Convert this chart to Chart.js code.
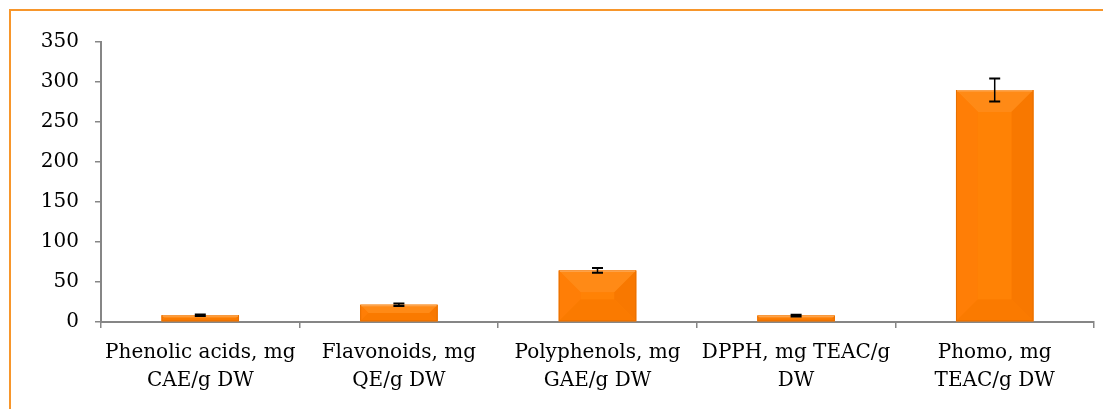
<!DOCTYPE html>
<html>
<head>
<meta charset="utf-8">
<script src="https://cdn.jsdelivr.net/npm/chart.js@4/dist/chart.umd.min.js"></script>
<style>
    html, body { margin: 0; padding: 0; background: #fff; overflow: hidden; }
    #frame { position: absolute; left: 9px; top: 9px; width: 1200px; height: 500px; border-left: 2px solid #F7962B; border-top: 2px solid #F7962B; }
    #wrap { position: absolute; left: 0; top: 0; width: 1103px; height: 409px; }
</style>
</head>
<body>
<div id="frame"></div>
<div id="wrap"><canvas id="grafico"></canvas></div>
<script>
// --- DADOS ---
const categorias = [
    ['Phenolic acids, mg', 'CAE/g DW'],
    ['Flavonoids, mg', 'QE/g DW'],
    ['Polyphenols, mg', 'GAE/g DW'],
    ['DPPH, mg TEAC/g', 'DW'],
    ['Phomo, mg', 'TEAC/g DW']
];
const valores = [8.5, 21.5, 64.5, 8, 290];
const erros = [1, 1.5, 3, 1, 14.5];
const ticksY = [0, 50, 100, 150, 200, 250, 300, 350];

const corEixo = '#868686';
const fonte = "'DejaVu Serif', serif";

// --- PLUGINS ---
const bisel = {
    id: 'bisel',
    afterDatasetsDraw(chart) {
        const ctx = chart.ctx;
        chart.getDatasetMeta(0).data.forEach(bar => {
            const l = bar.x - bar.width / 2, r = bar.x + bar.width / 2;
            const t = bar.y, b = bar.base;
            const h = b - t;
            const s = Math.min(h / 2, 22, bar.width / 2);
            const poly = (pts, cor) => {
                ctx.beginPath();
                ctx.moveTo(pts[0][0], pts[0][1]);
                pts.slice(1).forEach(p => ctx.lineTo(p[0], p[1]));
                ctx.closePath();
                ctx.fillStyle = cor;
                ctx.fill();
            };
            ctx.save();
            poly([[l, t], [r, t], [r - s, t + s], [l + s, t + s]], '#FF8A16');
            poly([[l, t], [l + s, t + s], [l + s, b - s], [l, b]], '#FF7E06');
            poly([[r, t], [r, b], [r - s, b - s], [r - s, t + s]], '#F87800');
            poly([[l, b], [l + s, b - s], [r - s, b - s], [r, b]], '#FA7A00');
            ctx.fillStyle = '#FF8205';
            ctx.fillRect(l + s, t + s, r - l - 2 * s, b - t - 2 * s);
            ctx.strokeStyle = '#E87000';
            ctx.lineWidth = 1;
            ctx.strokeRect(l + 0.5, t + 0.5, r - l - 1, b - t - 1);
            ctx.fillStyle = 'rgba(255,175,95,0.8)';
            ctx.fillRect(l + 1, t, r - l - 2, 1.5);
            ctx.restore();
        });
    }
};

const barrasErro = {
    id: 'barrasErro',
    afterDatasetsDraw(chart) {
        const ctx = chart.ctx;
        const y = chart.scales.y;
        ctx.save();
        ctx.strokeStyle = '#000';
        chart.getDatasetMeta(0).data.forEach((bar, i) => {
            const v = valores[i], e = erros[i];
            const yTop = y.getPixelForValue(v + e);
            const yBot = y.getPixelForValue(v - e);
            const x = bar.x;
            ctx.lineWidth = 1.5;
            ctx.beginPath();
            ctx.moveTo(x, yTop);
            ctx.lineTo(x, yBot);
            ctx.stroke();
            ctx.lineWidth = 2;
            ctx.beginPath();
            ctx.moveTo(x - 5.5, yTop);
            ctx.lineTo(x + 5.5, yTop);
            ctx.moveTo(x - 5.5, yBot);
            ctx.lineTo(x + 5.5, yBot);
            ctx.stroke();
        });
        ctx.restore();
    }
};

// --- GRÁFICO ---
new Chart(document.getElementById('grafico'), {
    type: 'bar',
    data: {
        labels: categorias,
        datasets: [{
            data: valores,
            backgroundColor: '#FF8000',
            borderWidth: 0,
            categoryPercentage: 1,
            barPercentage: 0.39
        }]
    },
    options: {
        responsive: true,
        maintainAspectRatio: false,
        animation: false,
        layout: { padding: { top: 42, right: 9, left: 0, bottom: 0 } },
        plugins: { legend: { display: false }, tooltip: { enabled: false } },
        scales: {
            x: {
                grid: { display: true, drawOnChartArea: false, offset: true, tickLength: 6, color: corEixo, lineWidth: 1.5 },
                border: { color: corEixo, width: 2 },
                ticks: { color: '#000', font: { family: fonte, size: 20, lineHeight: 1.4 }, maxRotation: 0, autoSkip: false, padding: 11 },
                afterFit(scale) { scale.height = 87; }
            },
            y: {
                min: 0,
                max: 350,
                afterBuildTicks(scale) { scale.ticks = ticksY.map(v => ({ value: v })); },
                grid: { display: true, drawOnChartArea: false, tickLength: 6, color: corEixo, lineWidth: 1.5 },
                border: { color: corEixo, width: 2 },
                ticks: { color: '#000', font: { family: fonte, size: 20 }, padding: 16 },
                afterFit(scale) { scale.width = 101; }
            }
        }
    },
    plugins: [bisel, barrasErro]
});
</script>
</body>
</html>
